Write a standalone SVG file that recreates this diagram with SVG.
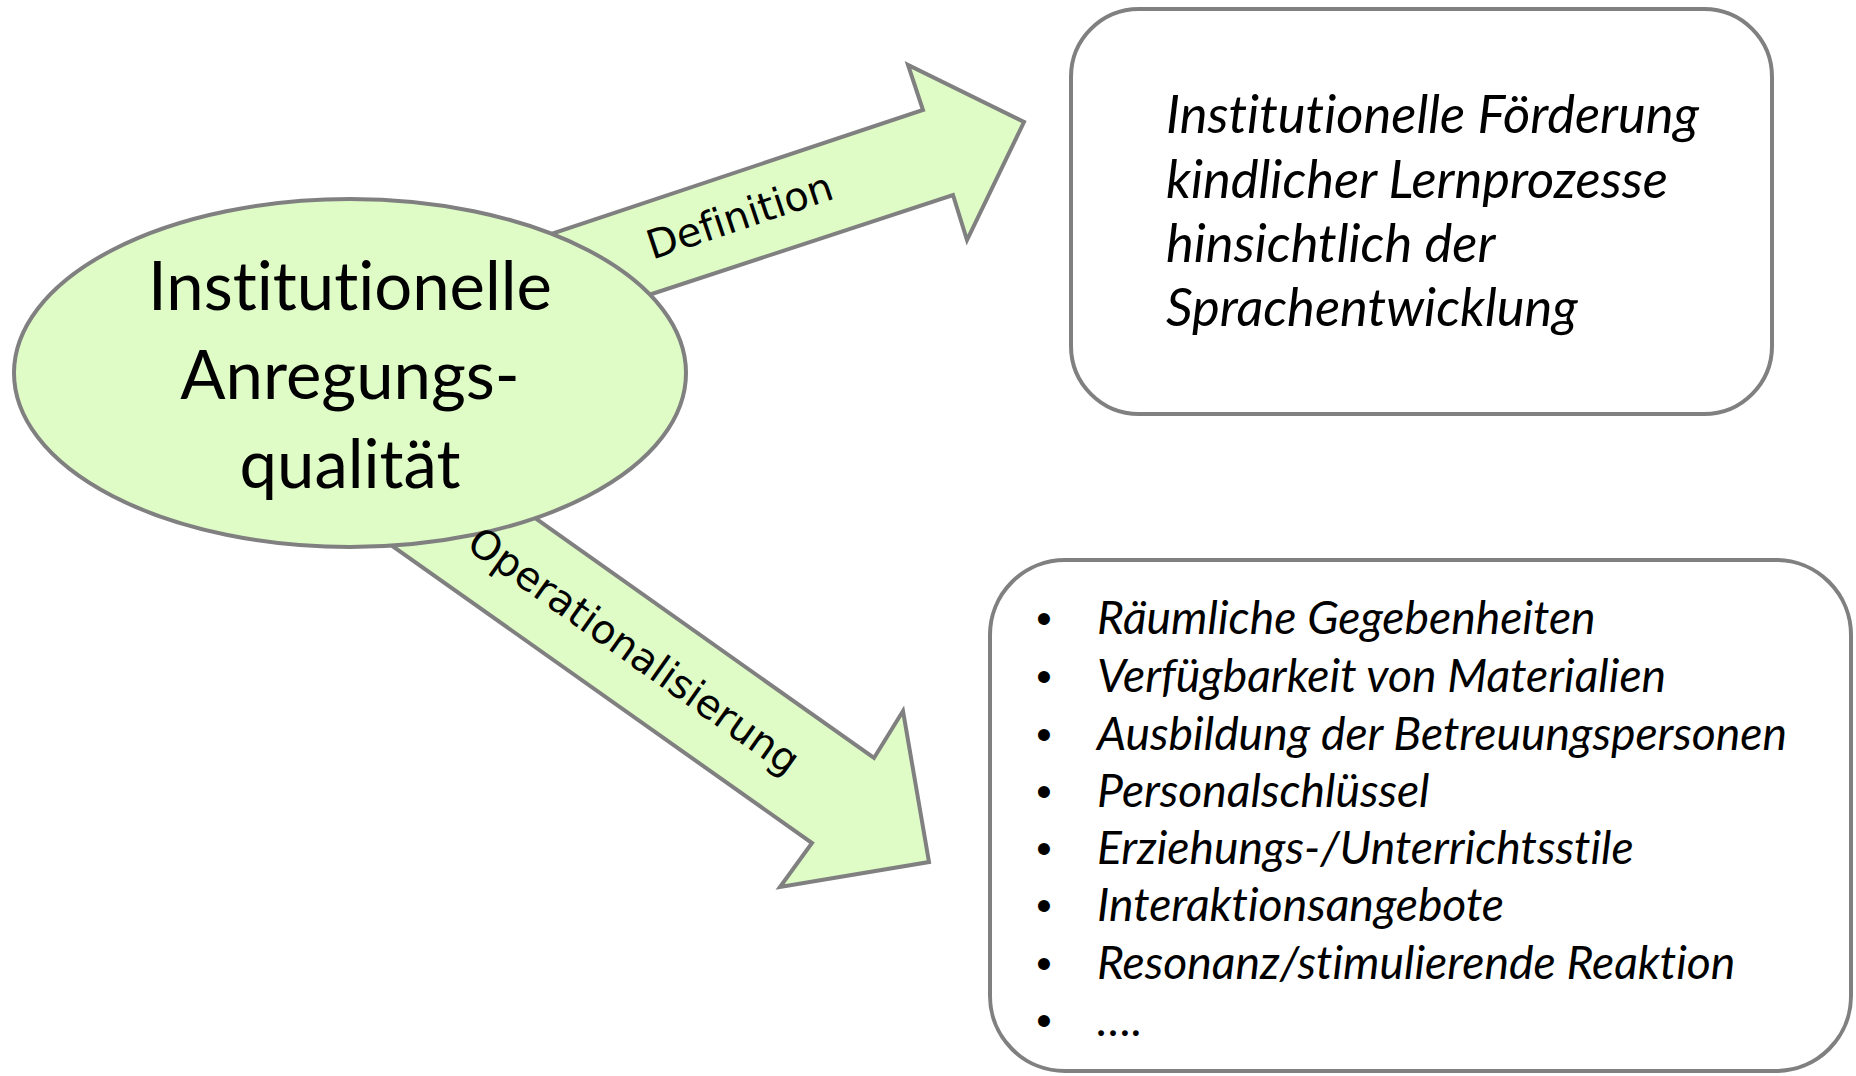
<svg xmlns="http://www.w3.org/2000/svg" width="1856" height="1076" viewBox="0 0 1856 1076">
<style>
text{font-variant-ligatures:none;font-feature-settings:"liga" 0,"clig" 0,"dlig" 0}
.shape{fill:#DFFCC6;stroke:#808080;stroke-width:4;stroke-linejoin:miter}
.box{fill:#FFFFFF;stroke:#808080;stroke-width:4}
.main{font-family:Lato,"Liberation Sans",sans-serif;font-size:67px;fill:#000;text-anchor:middle}
.it{font-family:Lato,"Liberation Sans",sans-serif;font-style:italic;fill:#000}
.top{font-size:52.5px}
.li{font-size:46.3px}
.bul{font-family:"Liberation Sans",sans-serif;font-size:44px;fill:#000;text-anchor:middle}
.lbl{font-family:"DejaVu Sans",sans-serif;font-size:40px;fill:#000;text-anchor:middle}
</style>
<rect width="1856" height="1076" fill="#FFFFFF"/>
<g id="connectors">
  <polygon class="shape" points="500,251 923,110 908,65 1024,122 967,240 953,195 600,311"/>
  <polygon class="shape" points="480,479 874,758 903,711 929,862 780,887 812,843 340,509"/>
</g>
<g id="node-center">
  <ellipse class="shape" cx="350" cy="373" rx="336" ry="174"/>
  <text class="main" x="350" y="310">Institutionelle</text>
  <text class="main" x="350" y="399">Anregungs-</text>
  <text class="main" x="350" y="488">qualität</text>
</g>
<g id="connector-labels">
  <text class="lbl" transform="translate(744,229) rotate(-18.5)">Definition</text>
  <text class="lbl" transform="translate(626,662) rotate(35.3)">Operationalisierung</text>
</g>
<g id="node-definition">
  <rect class="box" x="1071" y="9" width="701" height="405" rx="68" ry="68"/>
  <text class="it top" x="1166" y="133">Institutionelle Förderung</text>
  <text class="it top" x="1166" y="198">kindlicher Lernprozesse</text>
  <text class="it top" x="1166" y="262">hinsichtlich der</text>
  <text class="it top" x="1166" y="326">Sprachentwicklung</text>
</g>
<g id="node-operationalisierung">
  <rect class="box" x="990" y="560" width="861" height="511" rx="75" ry="75"/>
  <text class="bul" x="1044" y="634">•</text>
  <text class="bul" x="1044" y="692">•</text>
  <text class="bul" x="1044" y="750">•</text>
  <text class="bul" x="1044" y="807">•</text>
  <text class="bul" x="1044" y="864">•</text>
  <text class="bul" x="1044" y="921">•</text>
  <text class="bul" x="1044" y="979">•</text>
  <text class="bul" x="1044" y="1036">•</text>
  <text class="it li" x="1097" y="634">Räumliche Gegebenheiten</text>
  <text class="it li" x="1097" y="692">Verfügbarkeit von Materialien</text>
  <text class="it li" x="1097" y="750">Ausbildung der Betreuungspersonen</text>
  <text class="it li" x="1097" y="807">Personalschlüssel</text>
  <text class="it li" x="1097" y="864">Erziehungs-/Unterrichtsstile</text>
  <text class="it li" x="1097" y="921">Interaktionsangebote</text>
  <text class="it li" x="1097" y="979">Resonanz/stimulierende Reaktion</text>
  <text class="it li" x="1097" y="1036">….</text>
</g>
</svg>
